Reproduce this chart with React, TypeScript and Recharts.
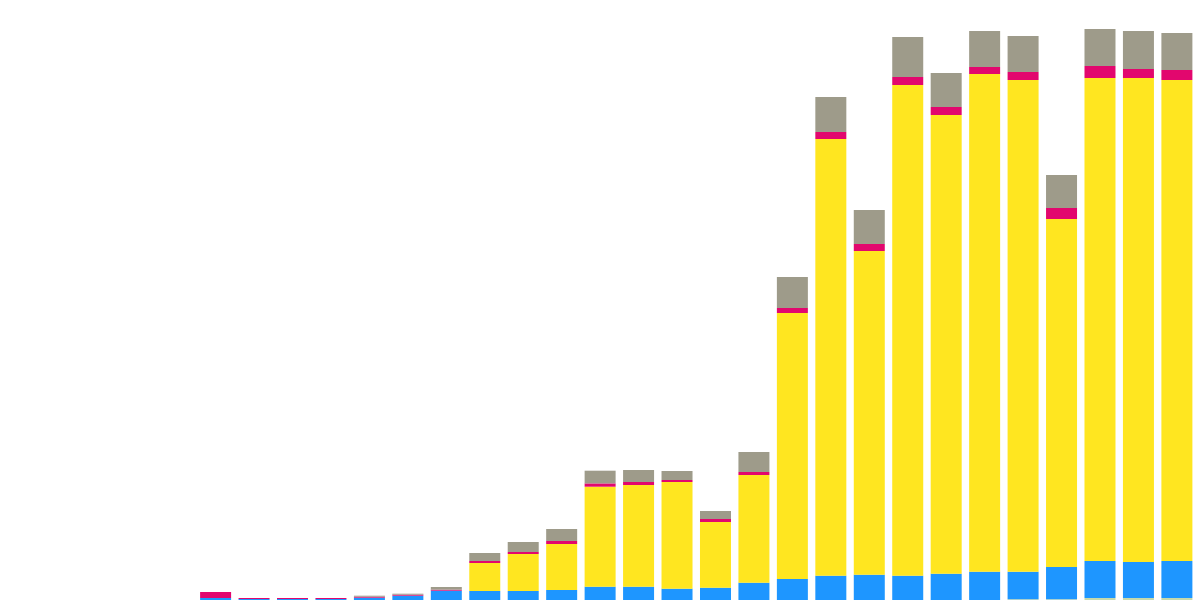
import { BarChart, Bar, XAxis, YAxis } from "recharts";

// 31 periods, the first five are empty
const periods = [
  "1", "2", "3", "4", "5", "6", "7", "8", "9", "10", "11", "12", "13", "14", "15", "16",
  "17", "18", "19", "20", "21", "22", "23", "24", "25", "26", "27", "28", "29", "30", "31",
];

const greenVals = [
  0, 0, 0, 0, 0, 0, 0, 0, 0, 0, 0, 0, 0, 0, 0, 0,
  0, 0, 0, 0, 0, 0, 0, 0, 0, 0, 0.7, 0.7, 2, 2, 2,
];
const blueVals = [
  0, 0, 0, 0, 0, 2, 1, 1, 1, 2.3, 4.3, 9.3, 9, 9, 10, 13.3,
  13.3, 11.3, 12.3, 17.3, 21, 24.3, 25.3, 24.3, 26.3, 28.3, 27.6, 32.3, 37, 36, 37,
];
const yellowVals = [
  0, 0, 0, 0, 0, 0, 0, 0, 0, 0, 0, 0, 28, 37, 46, 100,
  101.7, 106.7, 65.7, 107.7, 266, 436.7, 323.7, 490.7, 458.7, 497.7, 491.7, 348, 483, 484, 481,
];
const pinkVals = [
  0, 0, 0, 0, 0, 6, 1, 1, 1, 1, 1, 1, 2, 2, 3, 3.3,
  3, 2, 3, 3, 5, 7, 7, 8, 8, 7, 8, 11, 12, 9, 10,
];
const grayVals = [
  0, 0, 0, 0, 0, 0, 0, 0, 0, 1, 1, 2.7, 8, 10, 12, 12.7,
  12, 9, 8, 20, 31, 35, 34, 40, 34, 36, 36, 33, 37, 38, 37,
];

const data = periods.map((p, i) => ({
  period: p,
  green: greenVals[i],
  blue: blueVals[i],
  yellow: yellowVals[i],
  pink: pinkVals[i],
  gray: grayVals[i],
}));

export default function App() {
  return (
    <div style={{ width: 1200, height: 600 }}>
      <style>{`body{margin:0;}`}</style>
      <BarChart
        width={1200}
        height={600}
        data={data}
        margin={{ top: 0, right: 4, left: 4, bottom: 0 }}
        barCategoryGap="10%"
      >
        <XAxis dataKey="period" hide />
        <YAxis hide domain={[0, 600]} />
        <Bar dataKey="green" stackId="a" fill="#c6d9ad" isAnimationActive={false} />
        <Bar dataKey="blue" stackId="a" fill="#1e96ff" isAnimationActive={false} />
        <Bar dataKey="yellow" stackId="a" fill="#ffe620" isAnimationActive={false} />
        <Bar dataKey="pink" stackId="a" fill="#e2076e" isAnimationActive={false} />
        <Bar dataKey="gray" stackId="a" fill="#9e9b8a" isAnimationActive={false} />
      </BarChart>
    </div>
  );
}
